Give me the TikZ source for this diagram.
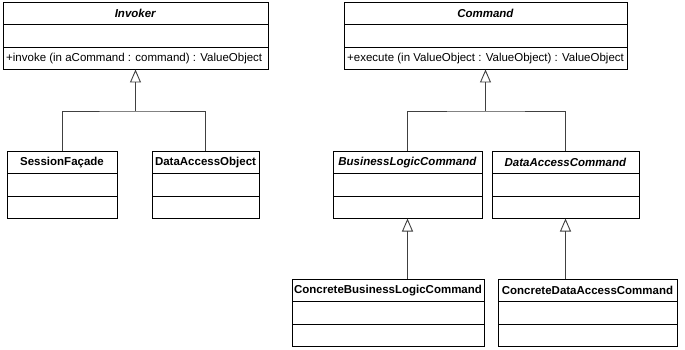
\documentclass[tikz,border=0pt]{standalone}
\usepackage{fontspec}
\setmainfont{Liberation Sans}
\usetikzlibrary{arrows.meta}
% name, left, right, top, title, operation
\newcommand{\umlclass}[6]{%
  \node[box,minimum width=#3-#2] (#1) at (#2,#4) {#5};
  \node[box,minimum width=#3-#2] (#1-a) at (#1.south west) {};
  \node[box,minimum width=#3-#2] (#1-o) at (#1-a.south west) {};
  \node[anchor=west,inner sep=0pt,xshift=3pt] (#1-t) at (#1-o.west) {#6};
}

\begin{document}
\begin{tikzpicture}[x=1pt,y=-1pt,font=\fontsize{11.5}{13}\selectfont,
        box/.style={draw,line width=0.8pt,anchor=north west,minimum height=22.5pt,inner sep=0pt,outer sep=0pt},
        gen/.style={draw=black!75,line width=0.9pt,-{Triangle[open,length=13pt,width=11pt]}},
        link/.style={draw=black!75,line width=0.9pt}]
    \useasboundingbox (0,0) rectangle (685,350);

    \umlclass{inv}{3}{268}{2}{\textbf{\textit{Invoker}}}{+invoke (in aCommand : command) : ValueObject}
    \umlclass{sf}{7}{117}{151}{\textbf{SessionFaçade}}{}
    \umlclass{dao}{152}{259}{151}{\textbf{DataAccessObject}}{}

    \umlclass{cmd}{344}{627}{2}{\textbf{\textit{Command}}}{+execute (in ValueObject : ValueObject) : ValueObject}
    \umlclass{blc}{333}{482}{151}{\textbf{\textit{BusinessLogicCommand}}}{}
    \umlclass{dac}{492}{639}{151}{\textbf{\textit{DataAccessCommand}}}{}
    \umlclass{cblc}{292}{484}{279}{\textbf{ConcreteBusinessLogicCommand}}{}
    \umlclass{cdac}{498}{677}{279}{\textbf{ConcreteDataAccessCommand}}{}

    % inheritance
    \coordinate (invjoin) at (inv-o.south |- 0,111);
    \draw[link] (sf.north) |- (invjoin) -| (dao.north);
    \draw[gen] (invjoin) -- (inv-o.south);

    \coordinate (cmdjoin) at (cmd-o.south |- 0,111);
    \draw[link] (blc.north) |- (cmdjoin) -| (dac.north);
    \draw[gen] (cmdjoin) -- (cmd-o.south);

    \draw[gen] (cblc.north -| blc-o.south) -- (blc-o.south);
    \draw[gen] (cdac.north -| dac-o.south) -- (dac-o.south);
\end{tikzpicture}
\end{document}
